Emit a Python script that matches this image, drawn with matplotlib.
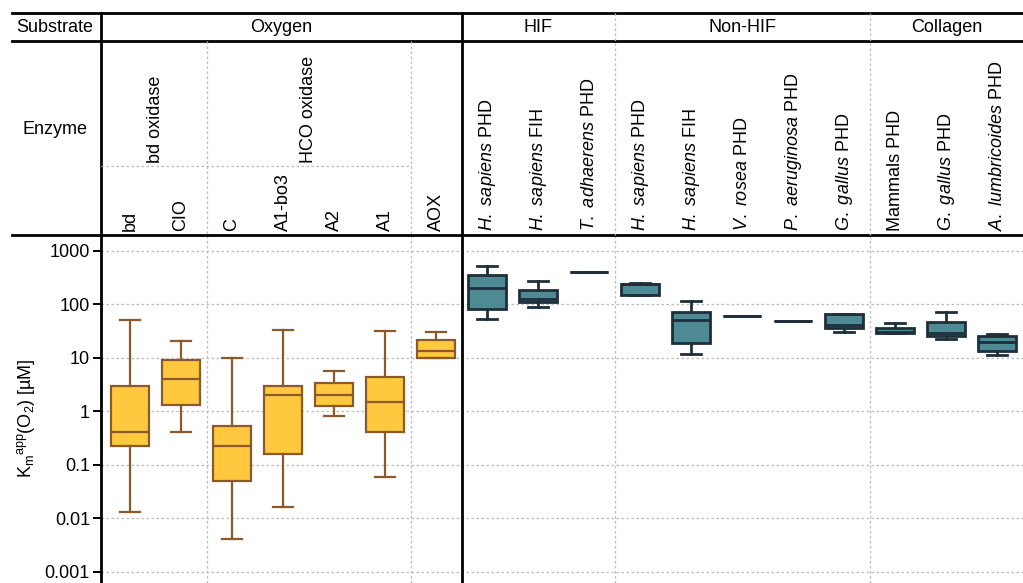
import matplotlib
matplotlib.use("Agg")
import matplotlib.pyplot as plt
from matplotlib.lines import Line2D
from matplotlib import transforms
import numpy as np

plt.rcParams['font.family'] = ['Liberation Sans', 'DejaVu Sans']
plt.rcParams['mathtext.fontset'] = 'custom'
plt.rcParams['mathtext.rm'] = 'Liberation Sans'
plt.rcParams['mathtext.it'] = 'Liberation Sans:italic'
plt.rcParams['mathtext.bf'] = 'Liberation Sans:bold'

# ---------------- data ----------------
enzymes = ["bd", "CIO", "C", "A1-bo3", "A2", "A1", "AOX",
           r"$\it{H.\ sapiens}$ PHD", r"$\it{H.\ sapiens}$ FIH", r"$\it{T.\ adhaerens}$ PHD",
           r"$\it{H.\ sapiens}$ PHD", r"$\it{H.\ sapiens}$ FIH", r"$\it{V.\ rosea}$ PHD",
           r"$\it{P.\ aeruginosa}$ PHD", r"$\it{G.\ gallus}$ PHD",
           "Mammals PHD", r"$\it{G.\ gallus}$ PHD", r"$\it{A.\ lumbricoides}$ PHD"]
substrate = ["Oxygen"] * 7 + ["HIF"] * 3 + ["Non-HIF"] * 5 + ["Collagen"] * 3
whisker_low = [0.0129, 0.41, 0.004, 0.0162, 0.80, 0.06, 9.9,
               52.4, 89, 403, 146, 11.9, 59.6, 48.4, 29.9, 29.5, 22.8, 11.4]
q1 = [0.226, 1.29, 0.049, 0.156, 1.27, 0.41, 9.9,
      83, 108, 403, 146, 18.8, 59.6, 48.4, 36.6, 29.5, 25.9, 13.3]
median = [0.40, 4.0, 0.226, 2.0, 2.0, 1.49, 13.3,
          202, 126, 403, 234, 51.7, 59.6, 48.4, 41.7, 30.5, 29.0, 20.0]
q3 = [3.0, 9.05, 0.536, 3.0, 3.37, 4.35, 21.7,
      349, 188, 403, 234, 70, 59.6, 48.4, 65, 36.6, 46, 25.9]
whisker_high = [50.7, 20.8, 10.0, 33.3, 5.7, 32, 29.8,
                521, 273, 403, 250, 117, 59.6, 48.4, 65, 44.7, 70.8, 27.4]
yticks = [1000, 100, 10, 1, 0.1, 0.01, 0.001]
yticklabels = ["1000", "100", "10", "1", "0.1", "0.01", "0.001"]

# ---------------- figure ----------------
W, H = 1023, 583
fig = plt.figure(figsize=(W / 100, H / 100), dpi=100)
ax = fig.add_axes([101 / W, 0, (W - 101) / W, (H - 235) / H])

n = len(enzymes)
pos = np.arange(n)
yellow_face, yellow_edge = "#FFC83F", "#8B5A2B"
teal_face, teal_edge = "#4E8A93", "#1E2F3B"

stats = []
for i in range(n):
    stats.append(dict(whislo=whisker_low[i], q1=q1[i], med=median[i],
                      q3=q3[i], whishi=whisker_high[i], fliers=[]))

for i in range(n):
    oxy = substrate[i] == "Oxygen"
    fc = yellow_face if oxy else teal_face
    ec = yellow_edge if oxy else teal_edge
    lw = 1.6 if oxy else 2.0
    ax.bxp([stats[i]], positions=[pos[i]], widths=0.75, capwidths=0.4,
           showfliers=False, patch_artist=True,
           boxprops=dict(facecolor=fc, edgecolor=ec, linewidth=lw),
           medianprops=dict(color=ec, linewidth=lw),
           whiskerprops=dict(color=ec, linewidth=lw),
           capprops=dict(color=ec, linewidth=lw), zorder=3)

ax.set_yscale("log")
ax.set_ylim(6.15e-4, 1963)
ax.set_xlim(-0.569, -0.569 + (W - 101) / 51.0)
ax.set_yticks(yticks)
ax.set_yticklabels(yticklabels, fontsize=13)
ax.yaxis.set_minor_locator(matplotlib.ticker.NullLocator())
ax.set_xticks([])
ax.tick_params(axis="y", length=6, width=1.4, pad=2)
for s in ["top", "right", "bottom"]:
    ax.spines[s].set_visible(False)
ax.spines["left"].set_linewidth(2.0)
ax.set_ylabel(r"$\mathrm{K_m{}^{app}(O_2)}$ [µM]", fontsize=13)
ax.yaxis.set_label_coords(-0.0694, 0.474)

grid_c = "#BBBBBB"
for yv in yticks:
    ax.axhline(yv, color=grid_c, lw=0.9, ls=(0, (2, 2)), zorder=0)
for xv in [1.5, 5.5, 9.5, 14.5]:
    ax.axvline(xv, color=grid_c, lw=0.9, ls=(0, (2, 2)), zorder=0)
ax.axvline(6.5, color="black", lw=2.0, zorder=4)

# ---------------- header ----------------
def fy(py):
    return 1 - py / H

def fx(px):
    return px / W

tr = transforms.blended_transform_factory(ax.transData, fig.transFigure)

for py in [13, 41, 235]:
    fig.add_artist(Line2D([fx(12), 1], [fy(py), fy(py)], color="black", lw=2.0,
                          transform=fig.transFigure))
# solid verticals
fig.add_artist(Line2D([fx(101), fx(101)], [fy(13), fy(235)], color="black", lw=2.0,
                      transform=fig.transFigure))
fig.add_artist(Line2D([6.5, 6.5], [fy(13), fy(235)], color="black", lw=2.0, transform=tr))
# dashed verticals
for xv, top in [(1.5, 41), (5.5, 41), (9.5, 13), (14.5, 13)]:
    fig.add_artist(Line2D([xv, xv], [fy(top), fy(235)], color=grid_c, lw=0.9,
                          ls=(0, (2, 2)), transform=tr))
# dashed horizontal in oxygen sub-header
fig.add_artist(Line2D([-0.569, 5.5], [fy(165.5), fy(165.5)], color=grid_c, lw=0.9,
                      ls=(0, (2, 2)), transform=tr))

fig.text(fx(55), fy(27), "Substrate", ha="center", va="center", fontsize=13)
fig.text(fx(55), fy(130), "Enzyme", ha="center", va="center", fontsize=13)

groups = [("Oxygen", -0.569, 6.5), ("HIF", 6.5, 9.5), ("Non-HIF", 9.5, 14.5),
          ("Collagen", 14.5, -0.569 + (W - 101) / 51.0)]
for name, a, b in groups:
    fig.text((a + b) / 2, fy(27), name, ha="center", va="center", fontsize=13, transform=tr)

fig.text(0.5, fy(163), "bd oxidase", rotation=90, ha="center", va="bottom",
         fontsize=13, transform=tr)
fig.text(3.5, fy(163), "HCO oxidase", rotation=90, ha="center", va="bottom",
         fontsize=13, transform=tr)

for i, lab in enumerate(enzymes):
    fig.text(pos[i], fy(231), lab, rotation=90, ha="center", va="bottom",
             fontsize=13, transform=tr)

fig.savefig("out.png", dpi=100)
